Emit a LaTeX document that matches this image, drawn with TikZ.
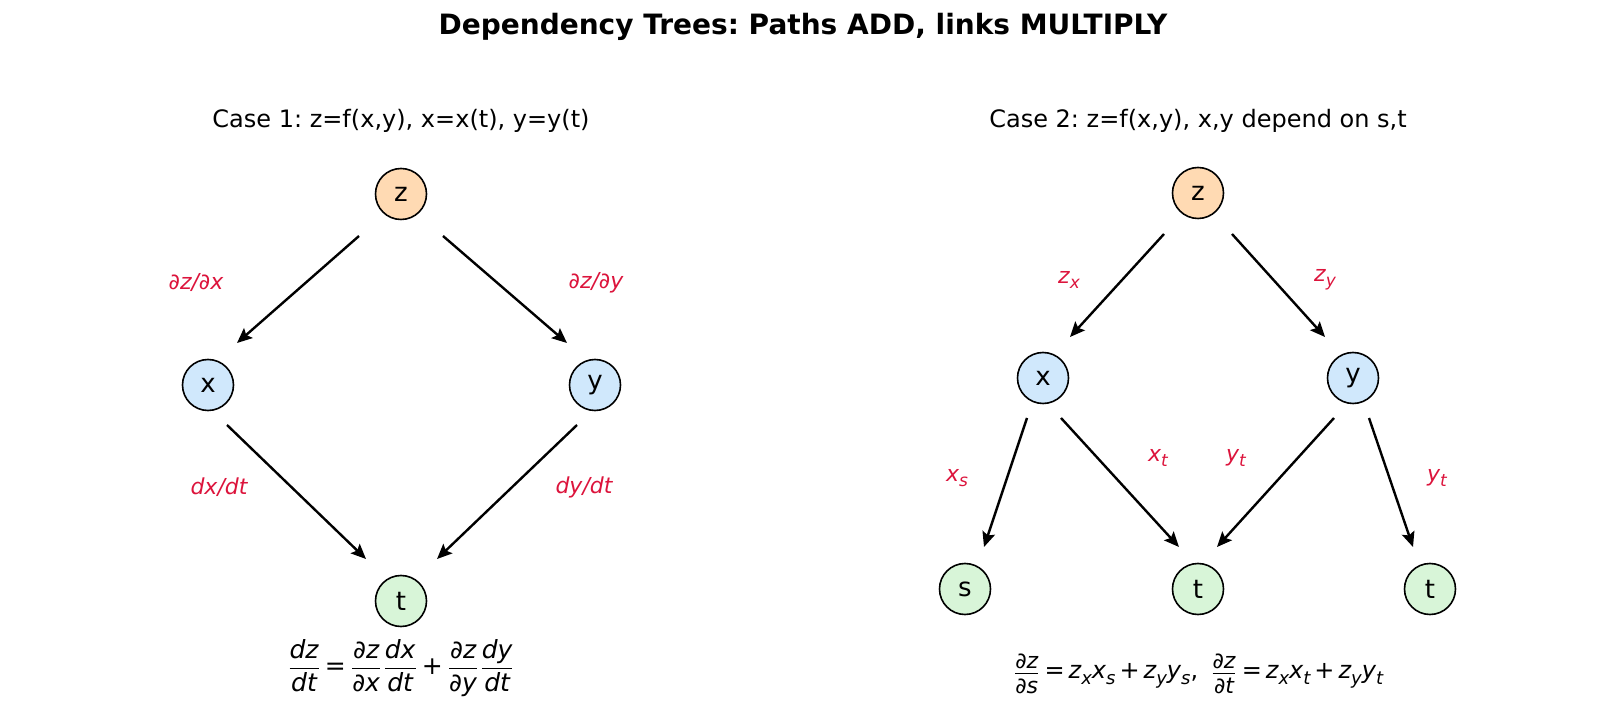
\documentclass[tikz,border=0pt]{standalone}
\usepackage{fontspec}
\setmainfont{DejaVu Sans}
\usetikzlibrary{arrows.meta,calc}
\definecolor{cz}{HTML}{FFDAB3}
\definecolor{cxy}{HTML}{D0E8FC}
\definecolor{cts}{HTML}{D8F5D8}
\definecolor{lab}{HTML}{DC143C}
\frenchspacing
\newcommand\V[1]{\mbox{\itshape #1}}
\newcommand\SV[1]{\mbox{\fontsize{11}{11}\selectfont\itshape #1}}
\newcommand\SFR[2]{$\frac{\SV{#1}\rule[-1.6pt]{0pt}{1pt}}{\SV{#2}\rule{0pt}{9.8pt}}$}
\newcommand\Sub[3][8.5]{\V{#2}\raisebox{-0.45ex}{\fontsize{#1}{#1}\selectfont\itshape #3}}
\tikzset{
  vnode/.style={circle,draw=black,line width=0.8pt,minimum size=25.5pt,inner sep=0pt,font=\fontsize{13}{14}\selectfont},
  zn/.style={vnode,fill=cz},
  xyn/.style={vnode,fill=cxy},
  tn/.style={vnode,fill=cts},
  arr/.style={line width=1.2pt,-{Stealth[length=7.5pt,width=6.5pt,inset=1.4pt]}},
  elab/.style={text=lab,font=\fontsize{11}{12}\selectfont\itshape},
  ctitle/.style={font=\fontsize{12}{14}\selectfont},
}
\begin{document}
\begin{tikzpicture}[x=0.5pt,y=-0.5pt]
\useasboundingbox (0,0) rectangle (1600,726);
\node[font=\fontsize{14}{16}\selectfont\bfseries] (title) at (803,27) {Dependency Trees: Paths ADD, links MULTIPLY};
% Case 1
\node[ctitle] (t1) at (401,121) {Case 1: z=f(x,y), x=x(t), y=y(t)};
\node[zn] (z1) at (401,194) {z};
\node[xyn] (x1) at (208,385) {x};
\node[xyn] (y1) at (595,385) {y};
\node[tn] (tt1) at (401,601) {t};
\draw[arr] ($(z1)+(-42,42)$) -- ($(x1)+(29,-42)$);
\draw[arr] ($(z1)+(42,42)$) -- ($(y1)+(-28,-42)$);
\draw[arr] ($(x1)+(19,40)$) -- ($(tt1)+(-35,-42)$);
\draw[arr] ($(y1)+(-18,40)$) -- ($(tt1)+(36,-42)$);
\node[elab] (l1) at (196,283) {∂z/∂x};
\node[elab] (l2) at (596,283) {∂z/∂y};
\node[elab] (l3) at (219,487) {dx/dt};
\node[elab] (l4) at (584,487) {dy/dt};
\node[font=\fontsize{12.5}{14}\selectfont] (f1) at (401,668)
  {$\displaystyle\frac{\V{dz}}{\V{dt}}\,\mbox{=}\,\frac{\V{∂z}}{\V{∂x}}\frac{\V{dx}}{\V{dt}}\,\mbox{+}\,\frac{\V{∂z}}{\V{∂y}}\frac{\V{dy}}{\V{dt}}$};
% Case 2
\node[ctitle] (t2) at (1198,121) {Case 2: z=f(x,y), x,y depend on s,t};
\node[zn] (z2) at (1198,193) {z};
\node[xyn] (x2) at (1043,378) {x};
\node[xyn] (y2) at (1353,378) {y};
\node[tn] (s2) at (965,589) {s};
\node[tn] (tm2) at (1198,589) {t};
\node[tn] (tr2) at (1430,589) {t};
\draw[arr] ($(z2)+(-34,41)$) -- ($(x2)+(27,-41)$);
\draw[arr] ($(z2)+(34,41)$) -- ($(y2)+(-28,-41)$);
\draw[arr] ($(x2)+(-16,40)$) -- ($(s2)+(19,-42)$);
\draw[arr] ($(x2)+(18,40)$) -- ($(tm2)+(-19,-42)$);
\draw[arr] ($(y2)+(-19,40)$) -- ($(tm2)+(19,-42)$);
\draw[arr] ($(y2)+(16,40)$) -- ($(tr2)+(-17,-42)$);
\node[elab] (m1) at (1069,280) {\Sub{z}{x}};
\node[elab] (m2) at (1325,280) {\Sub{z}{y}};
\node[elab] (m3) at (957,478) {\Sub{x}{s}};
\node[elab] (m4) at (1158,458) {\Sub{x}{t}};
\node[elab] (m5) at (1236,458) {\Sub{y}{t}};
\node[elab] (m6) at (1437,478) {\Sub{y}{t}};
\node[font=\fontsize{12}{13}\selectfont] (f2) at (1198,674)
  {\SFR{∂z}{∂s}\,=\,\Sub[9]{z}{x}\Sub[9]{x}{s}\,+\,\Sub[9]{z}{y}\Sub[9]{y}{s},\enspace \SFR{∂z}{∂t}\,=\,\Sub[9]{z}{x}\Sub[9]{x}{t}\,+\,\Sub[9]{z}{y}\Sub[9]{y}{t}};
\end{tikzpicture}
\end{document}
